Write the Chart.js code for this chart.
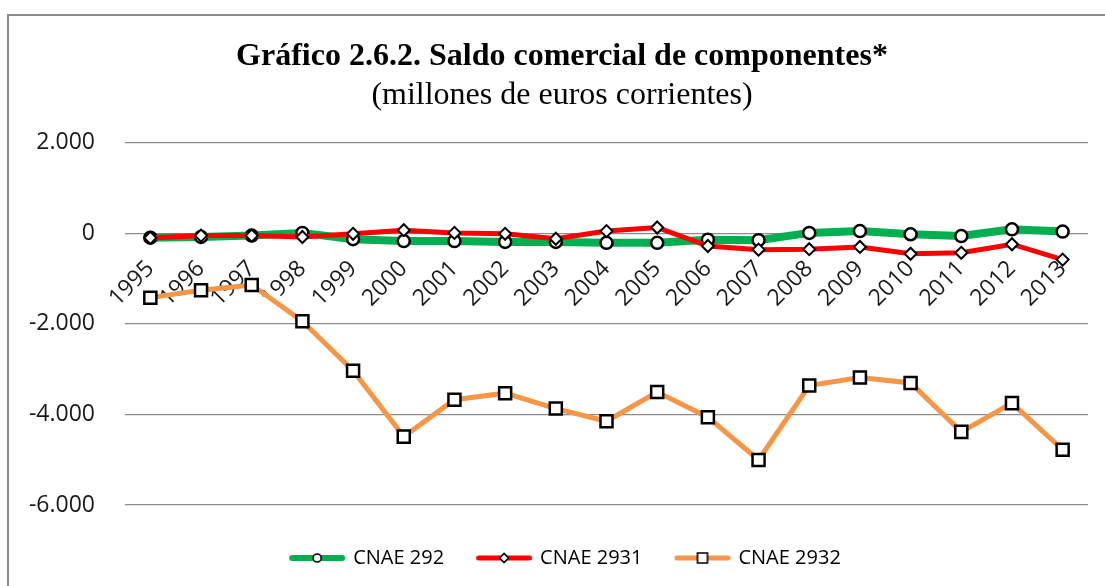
<!DOCTYPE html>
<html>
<head>
<meta charset="utf-8">
<script src="https://cdn.jsdelivr.net/npm/chart.js@4.4.1/dist/chart.umd.min.js"></script>
<style>
  html, body { margin: 0; padding: 0; background: #ffffff; }
  #wrap { position: relative; width: 1105px; height: 586px; overflow: hidden; }
  #frame { position: absolute; left: 7px; top: 14px; width: 1300px; height: 800px;
           border-left: 2px solid #8a8a8a; border-top: 2px solid #8a8a8a; }
  #cv { position: absolute; left: 0; top: 0; }
</style>
</head>
<body>
<div id="wrap">
  <div id="frame"></div>
  <canvas id="cv" width="1105" height="586"></canvas>
</div>
<script>
const years = ['1995','1996','1997','1998','1999','2000','2001','2002','2003','2004','2005','2006','2007','2008','2009','2010','2011','2012','2013'];
const seriesNames = ['CNAE 292', 'CNAE 2931', 'CNAE 2932'];
const cnae292  = [-95, -80, -50, 10, -130, -170, -170, -190, -190, -210, -210, -140, -150, 10, 50, -20, -60, 90, 40];
const cnae2931 = [-100, -50, -50, -80, -10, 70, 10, -10, -120, 50, 130, -280, -360, -350, -300, -450, -430, -240, -580];
const cnae2932 = [-1420, -1255, -1140, -1940, -3035, -4490, -3675, -3530, -3870, -4150, -3505, -4060, -5005, -3360, -3185, -3305, -4385, -3750, -4780];
const yTicks = [2000, 0, -2000, -4000, -6000];

function fmt(v) {
  const neg = v < 0;
  let s = String(Math.abs(Math.round(v)));
  s = s.replace(/\B(?=(\d{3})+(?!\d))/g, '.');
  return (neg ? '-' : '') + s;
}

function legendIcon(color, lw, style, r) {
  const c = document.createElement('canvas');
  c.width = 58; c.height = 16;
  const g = c.getContext('2d');
  g.strokeStyle = color; g.lineWidth = lw; g.lineCap = 'round';
  g.beginPath(); g.moveTo(lw / 2 + 1, 8); g.lineTo(58 - lw / 2 - 1, 8); g.stroke();
  g.fillStyle = '#ffffff'; g.strokeStyle = '#000000'; g.lineWidth = 1.6;
  g.beginPath();
  if (style === 'circle') { g.arc(29, 8, r, 0, Math.PI * 2); }
  else if (style === 'diamond') { g.moveTo(29 - r, 8); g.lineTo(29, 8 - r); g.lineTo(29 + r, 8); g.lineTo(29, 8 + r); g.closePath(); }
  else { g.rect(29 - r, 8 - r, 2 * r, 2 * r); }
  g.fill(); g.stroke();
  return c;
}
const icons = [
  legendIcon('#00B050', 6, 'circle', 4),
  legendIcon('#FF0000', 5, 'diamond', 4.5),
  legendIcon('#F79646', 5, 'square', 5)
];

// nudges the title blocks and the legend to the reference's centre lines
const shiftBoxes = {
  id: 'shiftBoxes',
  afterLayout(chart) {
    chart.boxes.forEach(b => {
      if (b === chart.legend) { b.left += 12; b.right += 12; b.top += 9; b.bottom += 9; }
      else if (!b.axis && b.options && b.options.text !== undefined) { b.left += 8; b.right += 8; }
    });
  }
};

const ctx = document.getElementById('cv').getContext('2d');
new Chart(ctx, {
  type: 'line',
  plugins: [shiftBoxes],
  data: {
    labels: years,
    datasets: [
      { label: seriesNames[0], data: cnae292, borderColor: '#00B050', borderWidth: 8, tension: 0,
        pointStyle: 'circle', pointRadius: 6, pointBorderWidth: 2.5, pointBackgroundColor: '#ffffff',
        pointBorderColor: '#000000', order: 3 },
      { label: seriesNames[1], data: cnae2931, borderColor: '#FF0000', borderWidth: 5, tension: 0,
        pointStyle: 'rectRot', pointRadius: 6, pointBorderWidth: 2, pointBackgroundColor: '#ffffff',
        pointBorderColor: '#000000', order: 2 },
      { label: seriesNames[2], data: cnae2932, borderColor: '#F79646', borderWidth: 5, tension: 0,
        pointStyle: 'rect', pointRadius: 8.5, pointBorderWidth: 2.5, pointBackgroundColor: '#ffffff',
        pointBorderColor: '#000000', order: 1 }
    ]
  },
  options: {
    responsive: false,
    animation: false,
    layout: { padding: { left: 20, right: 17, top: 0, bottom: 17 } },
    plugins: {
      title: {
        display: true,
        text: 'Gráfico 2.6.2. Saldo comercial de componentes*',
        font: { family: 'Liberation Serif', size: 32, weight: 'bold', lineHeight: 1.2 },
        color: '#000000',
        padding: { top: 38, bottom: 0 }
      },
      subtitle: {
        display: true,
        text: '(millones de euros corrientes)',
        font: { family: 'Liberation Serif', size: 32, weight: 'normal', lineHeight: 1.2 },
        color: '#000000',
        padding: { top: 0, bottom: 28 }
      },
      legend: {
        position: 'bottom',
        labels: {
          usePointStyle: true,
          pointStyleWidth: 52,
          padding: 34,
          color: '#000000',
          font: { family: 'Open Sans', size: 20 },
          generateLabels: function (chart) {
            return chart.data.datasets.map((ds, i) => ({
              text: ds.label,
              pointStyle: icons[i],
              fillStyle: 'transparent',
              strokeStyle: 'transparent',
              lineWidth: 0,
              hidden: false,
              datasetIndex: i,
              fontColor: '#000000'
            }));
          }
        }
      },
      tooltip: { enabled: false }
    },
    scales: {
      x: {
        position: { y: 0 },
        offset: true,
        grid: { display: false, drawTicks: false },
        border: { display: false },
        ticks: {
          minRotation: 45, maxRotation: 45, padding: 22, autoSkip: false,
          color: '#1a1a1a',
          font: { family: 'Open Sans', size: 23 }
        }
      },
      y: {
        min: -6000, max: 2000,
        afterFit: function (scale) { scale.width = 105; },
        afterBuildTicks: function (scale) { scale.ticks = yTicks.map(v => ({ value: v })); },
        grid: { color: '#8c8c8c', lineWidth: 1.2, drawTicks: false },
        border: { display: false },
        ticks: {
          padding: 30,
          color: '#1a1a1a',
          font: { family: 'Open Sans', size: 23 },
          callback: function (v) { return fmt(v); }
        }
      }
    }
  }
});
</script>
</body>
</html>
